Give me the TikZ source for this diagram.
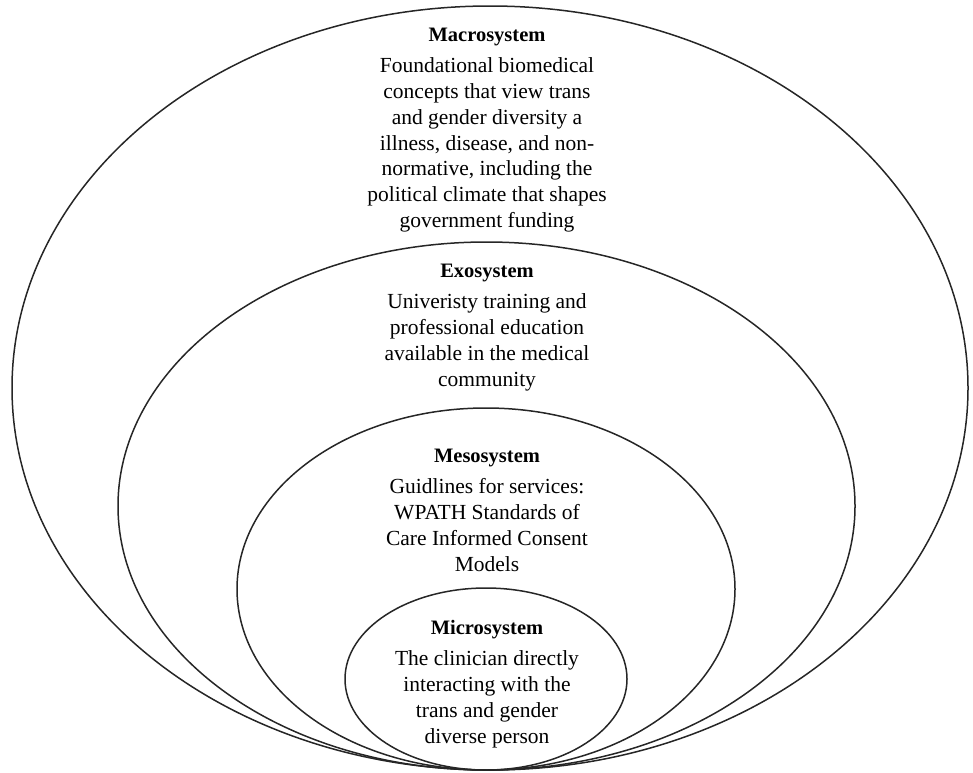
\documentclass[tikz,border=0pt]{standalone}
\usepackage{fontspec}
\setmainfont{Liberation Serif}
\usetikzlibrary{shapes.geometric, positioning}

\begin{document}
\begin{tikzpicture}[
  x=1pt, y=-1pt,
  node distance=12pt,
  ring/.style={draw=black!85, ellipse, line width=1.5pt, inner sep=0pt, outer sep=0pt},
  head/.style={font=\fontsize{20.5}{24}\selectfont\bfseries, inner sep=0pt},
  body/.style={font=\fontsize{21.5}{25.8}\selectfont, align=center, inner sep=0pt}
]
\useasboundingbox (0,0) rectangle (973,772);

% nested systems, all touching at the bottom
\node[ring, minimum width=956pt, minimum height=764pt] (macro) at (490,388) {};
\node[ring, minimum width=737pt, minimum height=528pt] (exo) at (486.5,506) {};
\node[ring, minimum width=498pt, minimum height=362pt] (meso) at (486,589) {};
\node[ring, minimum width=282pt, minimum height=182pt] (micro) at (486,679) {};

% labels
\node[head, anchor=base] (macrohead) at (487,41) {Macrosystem};
\node[body, below=of macrohead] (macrotext) {Foundational biomedical\\concepts that view trans\\and gender diversity a\\illness, disease, and non-\\normative, including the\\political climate that shapes\\government funding};

\node[head, anchor=base] (exohead) at (487,277) {Exosystem};
\node[body, below=of exohead] (exotext) {Univeristy training and\\professional education\\available in the medical\\community};

\node[head, anchor=base] (mesohead) at (487,462) {Mesosystem};
\node[body, below=of mesohead] (mesotext) {Guidlines for services:\\WPATH Standards of\\Care Informed Consent\\Models};

\node[head, anchor=base] (microhead) at (487,634) {Microsystem};
\node[body, below=of microhead] (microtext) {The clinician directly\\interacting with the\\trans and gender\\diverse person};

\end{tikzpicture}
\end{document}
